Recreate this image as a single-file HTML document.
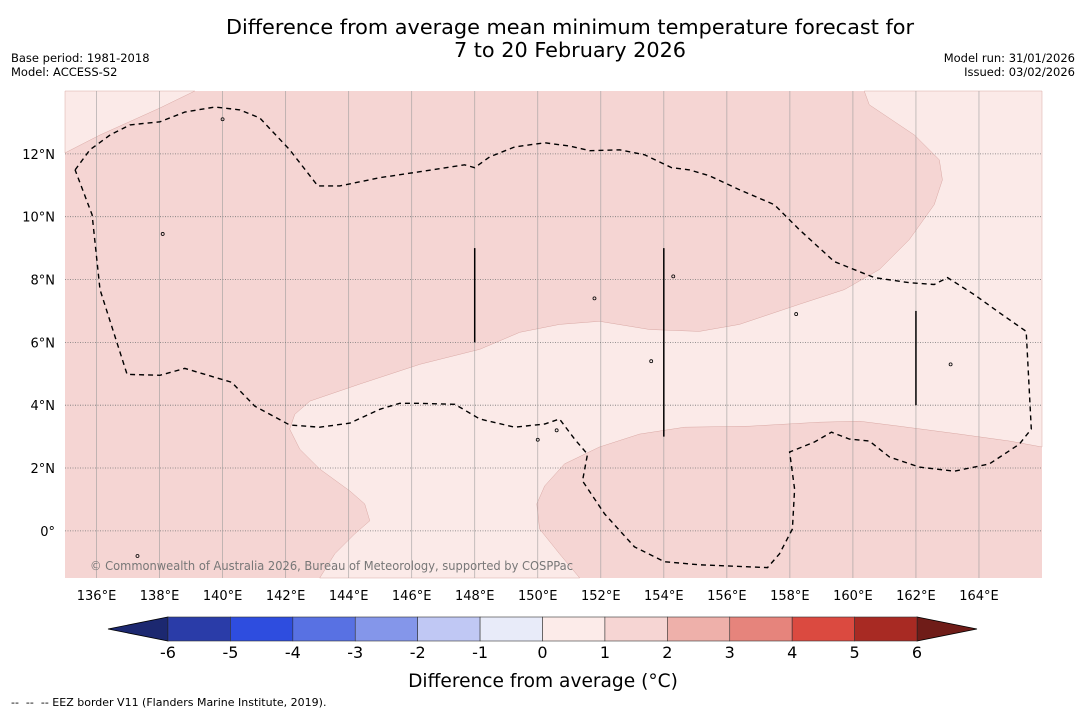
<!DOCTYPE html>
<html><head><meta charset="utf-8"><style>
body{margin:0;width:1085px;height:713px;background:#fff;overflow:hidden;font-family:"Liberation Sans","DejaVu Sans",sans-serif}
svg{position:absolute;left:0;top:0}
</style></head><body>
<svg id="chart" width="1085" height="713">
<text x="570" y="34" text-anchor="middle" font-size="20.8" font-family="DejaVu Sans, sans-serif">Difference from average mean minimum temperature forecast for</text>
<text x="570" y="57" text-anchor="middle" font-size="20.8" font-family="DejaVu Sans, sans-serif">7 to 20 February 2026</text>
<text x="11" y="62" font-size="11.5" font-family="DejaVu Sans, sans-serif">Base period: 1981-2018</text>
<text x="11" y="76" font-size="11.5" font-family="DejaVu Sans, sans-serif">Model: ACCESS-S2</text>
<text x="1075" y="62" text-anchor="end" font-size="11.5" font-family="DejaVu Sans, sans-serif">Model run: 31/01/2026</text>
<text x="1075" y="76" text-anchor="end" font-size="11.5" font-family="DejaVu Sans, sans-serif">Issued: 03/02/2026</text>
<g id="map"></g>
<g id="cbar"></g>
<text x="543" y="687" text-anchor="middle" font-size="18.6" font-family="DejaVu Sans, sans-serif">Difference from average (°C)</text>
<text x="11" y="706" font-size="11" font-family="DejaVu Sans, sans-serif" xml:space="preserve" style="white-space:pre">--  --  -- EEZ border V11 (Flanders Marine Institute, 2019).</text>
</svg>
<script>
const lonTicks=[136,138,140,142,144,146,148,150,152,154,156,158,160,162,164];
const latTicks=[12,10,8,6,4,2,0];
const cbLevels=[-6,-5,-4,-3,-2,-1,0,1,2,3,4,5,6];
const cbColors=["#2a3ca8","#2e4ddf","#5871e3","#8496ea","#c0c8f4","#e8ebf9","#fcebe9","#f6d5d3","#eeb0aa","#e6847c","#db4a40","#a82a23"];
const lightRegion1=[[135,14],[135,12.03],[136.11,12.6],[138.01,13.46],[139.12,14]];
const lightRegion2=[[160.36,14],[160.52,13.56],[161.95,12.6],[162.74,11.81],[162.84,11.17],[162.58,10.38],[161.79,9.27],[160.84,8.32],[159.73,7.68],[158.3,7.21],[156.4,6.57],[155.13,6.35],[153.55,6.41],[151.96,6.67],[150.69,6.57],[149.43,6.32],[148.16,5.78],[146.26,5.3],[144.35,4.67],[142.77,4.13],[142.29,3.71],[142.13,3.24],[142.45,2.6],[143.08,1.97],[144.04,1.27],[144.51,0.86],[144.67,0.32],[144.19,-0.1],[143.56,-0.73],[143.08,-1.5],[151.33,-1.5],[150.69,-0.73],[150.06,0.06],[149.97,0.86],[150.22,1.43],[150.85,2.13],[151.96,2.67],[153.23,3.08],[154.66,3.3],[156.72,3.33],[158.94,3.46],[160.21,3.49],[161.47,3.33],[163.38,3.08],[164.96,2.86],[166,2.67],[166,14]];
const dashedContour=[[135.32,11.49],[135.79,12.13],[136.43,12.6],[137.06,12.92],[138.01,13.02],[138.8,13.33],[139.76,13.49],[140.55,13.4],[141.18,13.14],[142.13,12.13],[143.02,10.98],[143.72,10.98],[144.99,11.24],[146.26,11.43],[147.68,11.65],[148,11.56],[148.47,11.9],[149.27,12.22],[150.22,12.35],[151.01,12.25],[151.65,12.1],[152.6,12.13],[153.39,11.97],[154.25,11.56],[154.82,11.49],[155.45,11.3],[156.4,10.86],[157.51,10.38],[158.3,9.59],[159.41,8.57],[160.68,8.06],[161.79,7.9],[162.58,7.84],[163,8.06],[163.85,7.52],[164.64,6.95],[165.5,6.35],[165.66,3.24],[165.28,2.76],[164.33,2.13],[163.22,1.9],[162.11,2.03],[161.16,2.35],[160.52,2.86],[159.89,2.92],[159.32,3.14],[158.78,2.83],[157.99,2.51],[158.15,1.33],[158.08,0.06],[157.67,-0.73],[157.29,-1.17],[155.13,-1.08],[154.02,-0.98],[153.07,-0.51],[152.12,0.54],[151.42,1.59],[151.58,2.44],[151.17,2.92],[150.69,3.56],[150.22,3.4],[149.27,3.3],[148.16,3.56],[147.37,4.03],[146.26,4.06],[145.62,4.06],[144.99,3.87],[144.04,3.43],[143.08,3.3],[142.13,3.37],[141.02,3.97],[140.29,4.73],[138.8,5.17],[138.01,4.95],[136.97,4.98],[136.11,7.68],[135.86,10.06],[135.32,11.49]];
const eezLines=[[148,9,6],[154,9,3],[162,7,4]];
const islands=[[138.1,9.45],[150.0,2.9],[150.6,3.2],[151.8,7.4],[153.6,5.4],[154.3,8.1],[158.2,6.9],[163.1,5.3],[140.0,13.1],[137.3,-0.8]];

const NS="http://www.w3.org/2000/svg";
const X0=65,X1=1042,Y0=91,Y1=578,LON0=135,LON1=166,LAT0=-1.5,LAT1=14;
const xs=l=>X0+(l-LON0)/(LON1-LON0)*(X1-X0);
const ys=l=>Y0+(LAT1-l)/(LAT1-LAT0)*(Y1-Y0);
function mk(tag,attrs,parent){const e=document.createElementNS(NS,tag);for(const k in attrs)e.setAttribute(k,attrs[k]);parent.appendChild(e);return e;}
const map=document.getElementById('map');
let r=mk('rect',{x:X0,y:Y0,width:X1-X0,height:Y1-Y0,fill:'#f5d5d3'},map);


const pts=a=>a.map(p=>xs(p[0]).toFixed(1)+','+ys(p[1]).toFixed(1)).join(' ');
let p1=mk('polygon',{points:pts(lightRegion1),fill:'#fbeae8',stroke:'#d9a8a4','stroke-width':0.5},map);


let p2=mk('polygon',{points:pts(lightRegion2),fill:'#fbeae8',stroke:'#d9a8a4','stroke-width':0.5},map);


lonTicks.forEach(l=>{
 let g=mk('line',{x1:xs(l),x2:xs(l),y1:Y0,y2:Y1,stroke:'#999','stroke-width':0.8,opacity:0.7},map);
 
 
 let t=mk('text',{x:xs(l),y:600,'text-anchor':'middle','font-size':13,'font-family':'DejaVu Sans, sans-serif'},map);
 t.textContent=l+'°E';
 
 
});
latTicks.forEach(l=>{
 let g=mk('line',{x1:X0,x2:X1,y1:ys(l),y2:ys(l),stroke:'#777','stroke-width':0.8,'stroke-dasharray':'1,1.5'},map);
 
 
 let t=mk('text',{x:55,y:ys(l)+5,'text-anchor':'end','font-size':13,'font-family':'DejaVu Sans, sans-serif'},map);
 t.textContent=l===0?'0°':l+'°N';
 
 
});
let dc=mk('polyline',{points:pts(dashedContour),fill:'none',stroke:'#000','stroke-width':1.4,'stroke-dasharray':'5,4'},map);


eezLines.forEach(e=>{
 let l=mk('line',{x1:xs(e[0]),x2:xs(e[0]),y1:ys(e[1]),y2:ys(e[2]),stroke:'#000','stroke-width':1.5},map);
 
 
});
islands.forEach(i=>{
 let c=mk('circle',{cx:xs(i[0]),cy:ys(i[1]),r:1.5,fill:'none',stroke:'#000','stroke-width':0.8},map);
 
 
});
let cp=mk('text',{x:90,y:570,'font-size':12,'textLength':483,'lengthAdjust':'spacingAndGlyphs',fill:'#777','font-family':'DejaVu Sans, sans-serif'},map);
cp.textContent='© Commonwealth of Australia 2026, Bureau of Meteorology, supported by COSPPac';



const cb=document.getElementById('cbar');
const CX0=168,CX1=917,CY=617,CH=24;
const cx=v=>CX0+(v-cbLevels[0])/(cbLevels[cbLevels.length-1]-cbLevels[0])*(CX1-CX0);
let la=mk('polygon',{points:`${CX0},${CY} ${CX0},${CY+CH} 108,${CY+CH/2}`,fill:'#1c2870',stroke:'#000','stroke-width':0.8},cb);


let ra=mk('polygon',{points:`${CX1},${CY} ${CX1},${CY+CH} 977,${CY+CH/2}`,fill:'#6f1c18',stroke:'#000','stroke-width':0.8},cb);


cbColors.forEach((c,i)=>{
 let s=mk('rect',{x:cx(cbLevels[i]),y:CY,width:cx(cbLevels[i+1])-cx(cbLevels[i]),height:CH,fill:c,stroke:'#333','stroke-width':0.6},cb);
 
 
});
cbLevels.forEach(v=>{
 let t=mk('text',{x:cx(v),y:658,'text-anchor':'middle','font-size':16,'font-family':'DejaVu Sans, sans-serif'},cb);
 t.textContent=v;
 
 
});
</script>
</body></html>
